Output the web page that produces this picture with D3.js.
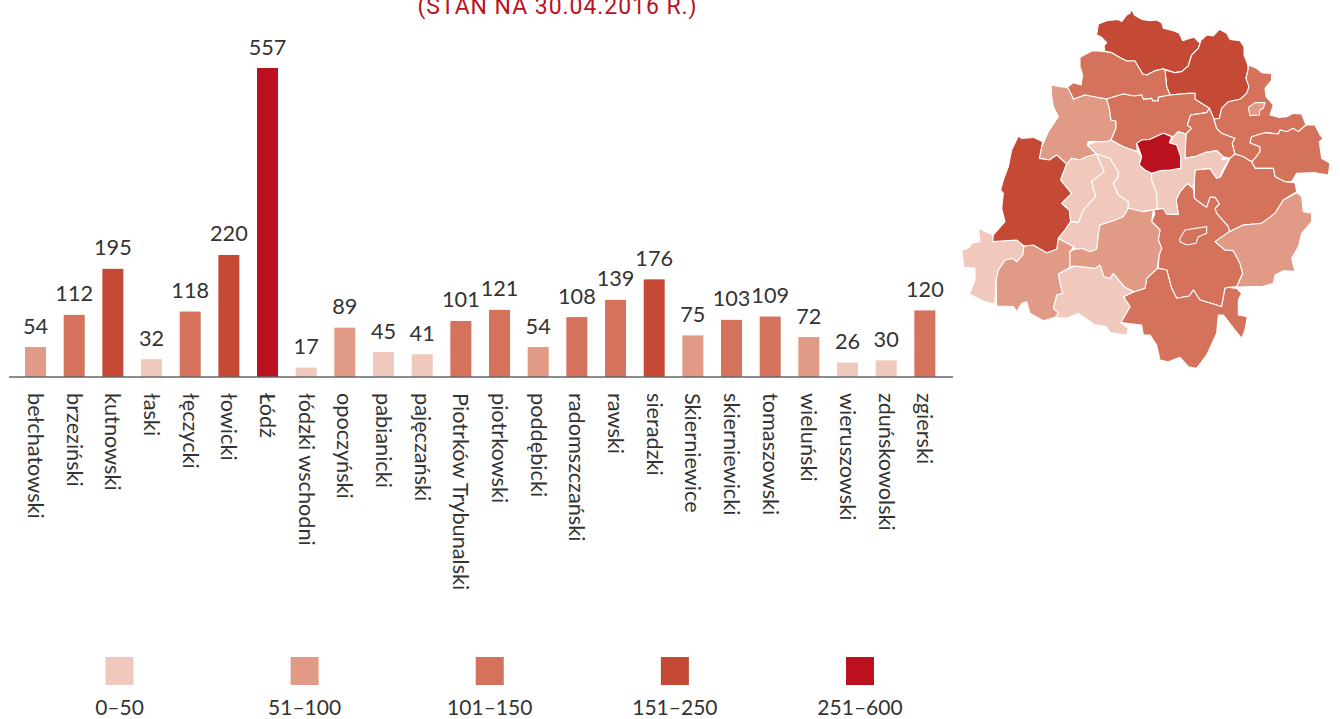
<!DOCTYPE html>
<html lang="pl">
<head>
<meta charset="utf-8">
<title>Powiaty</title>
<script src="https://cdn.jsdelivr.net/npm/d3@7"></script>
<style>
  html, body { margin: 0; padding: 0; background: #fff; overflow: hidden; }
  text { font-family: Lato, sans-serif; fill: #333; }
</style>
</head>
<body>
<div id="chart"></div>
<script>
// Values per county
const categories = ['bełchatowski', 'brzeziński', 'kutnowski', 'łaski', 'łęczycki', 'łowicki', 'Łódź',
    'łódzki wschodni', 'opoczyński', 'pabianicki', 'pajęczański', 'Piotrków Trybunalski', 'piotrkowski',
    'poddębicki', 'radomszczański', 'rawski', 'sieradzki', 'Skierniewice', 'skierniewicki', 'tomaszowski',
    'wieluński', 'wieruszowski', 'zduńskowolski', 'zgierski'];
const values = [54, 112, 195, 32, 118, 220, 557, 17, 89, 45, 41, 101, 121, 54, 108, 139, 176, 75, 103, 109, 72, 26, 30, 120];

const legendLabels = ['0–50', '51–100', '101–150', '151–250', '251–600'];
const legendBreaks = [51, 101, 151, 251];
const legendColors = ['#f1c9bc', '#e19a85', '#d5725b', '#c54a36', '#bb101d'];

// County outlines (map units, see mapX / mapY)
const kutnowskiShape = [[545,27],[553,45],[575,58],[600,62],[620,60],[635,68],[640,85],[670,92],[688,100],[698,122],[720,115],[733,112],[750,130],[745,145],[725,165],[718,185],[715,198],[695,215],[675,218],[640,206],[615,212],[590,225],[578,222],[565,200],[555,183],[530,183],[505,170],[485,158],[465,155],[462,138],[470,128],[455,112],[440,105],[445,72],[470,62],[505,58],[515,65],[530,45],[540,40]];
const lowickiShape = [[750,130],[752,122],[770,105],[790,108],[808,88],[830,100],[840,118],[870,122],[882,140],[882,165],[892,190],[895,205],[888,235],[897,260],[890,280],[870,298],[835,305],[815,325],[808,355],[792,357],[778,325],[735,298],[735,280],[715,280],[660,285],[650,260],[645,210],[675,218],[695,215],[715,198],[725,165],[745,145]];
const leczyckiShape = [[390,172],[425,153],[445,153],[465,155],[485,158],[505,170],[530,183],[555,183],[565,200],[578,222],[590,225],[615,212],[640,206],[645,210],[650,260],[660,285],[625,292],[625,303],[608,303],[605,295],[580,298],[575,285],[550,288],[520,282],[470,297],[440,292],[405,285],[370,298],[362,280],[352,262],[370,248],[393,255],[398,225],[390,200]];
const poddebickiShape = [[303,255],[330,260],[352,262],[362,280],[370,298],[405,285],[440,292],[470,297],[478,325],[483,360],[498,363],[498,385],[483,420],[470,425],[440,425],[415,425],[412,435],[440,462],[410,470],[390,480],[365,475],[350,492],[320,465],[298,480],[268,475],[275,440],[295,395],[325,350],[310,320],[305,290]];
const zgierskiShape = [[470,297],[520,282],[550,288],[575,285],[580,298],[605,295],[608,303],[625,303],[625,292],[660,285],[715,280],[735,280],[735,298],[778,325],[770,338],[722,345],[712,375],[725,385],[708,402],[685,395],[670,410],[640,400],[600,418],[575,420],[560,430],[562,455],[520,440],[483,420],[498,385],[498,363],[483,360],[478,325]];
const brzezinskiShape = [[722,345],[770,338],[778,325],[792,357],[800,385],[815,400],[855,415],[847,430],[855,462],[840,475],[820,470],[800,452],[765,458],[735,470],[705,475],[708,402],[725,385],[712,375]];
const lodzShape = [[560,430],[575,420],[600,418],[640,400],[665,410],[658,428],[680,435],[692,470],[692,505],[660,510],[630,512],[605,520],[585,510],[568,495],[575,470],[568,450]];
const lodzkiWschShape = [[658,428],[670,410],[685,395],[708,402],[705,475],[735,470],[765,458],[800,452],[820,470],[815,480],[840,475],[815,515],[812,530],[800,535],[780,505],[735,510],[733,540],[730,565],[712,550],[690,575],[678,600],[685,643],[650,642],[640,625],[622,625],[620,580],[605,540],[605,520],[630,512],[660,510],[692,505],[692,470],[680,435]];
const skierniewickiShape = [[895,195],[920,205],[935,218],[965,220],[965,240],[945,265],[948,290],[970,315],[960,345],[985,352],[1010,350],[1030,340],[1055,342],[1068,375],[1045,395],[1030,385],[1010,395],[990,390],[985,402],[945,398],[905,410],[900,428],[930,440],[930,455],[915,475],[905,485],[880,470],[855,462],[847,430],[855,415],[815,400],[800,385],[792,357],[808,355],[815,325],[835,305],[870,298],[890,280],[897,260],[888,235],[895,205]];
const skierniewiceShape = [[895,322],[915,308],[945,308],[940,325],[930,330],[928,345],[900,347]];
const rawskiShape = [[1068,375],[1095,375],[1110,405],[1120,415],[1108,425],[1115,475],[1140,490],[1135,525],[1095,518],[1040,520],[1025,545],[1005,545],[975,530],[970,505],[915,505],[905,485],[915,475],[930,455],[930,440],[900,428],[905,410],[945,398],[985,402],[990,390],[1010,395],[1030,385],[1045,395]];
const tomaszowskiShape = [[733,540],[735,510],[780,505],[800,535],[812,530],[840,475],[855,462],[880,470],[905,485],[915,505],[970,505],[975,530],[1005,545],[1035,548],[1040,575],[1000,600],[975,640],[935,670],[880,675],[838,695],[835,680],[800,640],[795,625],[808,612],[795,592],[780,592],[770,622],[755,612],[733,595]];
const piotrkowskiShape = [[610,630],[640,625],[650,642],[685,643],[678,600],[690,575],[712,550],[730,565],[733,595],[755,612],[770,622],[780,592],[795,592],[808,612],[795,625],[800,640],[835,680],[838,695],[795,725],[825,750],[850,752],[870,790],[878,820],[860,860],[838,862],[825,865],[815,920],[790,912],[750,900],[730,870],[718,888],[680,895],[665,865],[650,810],[625,805],[627,765],[635,745],[625,720],[630,690],[605,665],[615,640]];
const piotrkowShape = [[690,715],[705,690],[770,680],[770,700],[745,710],[738,730],[710,735],[690,725]];
const opoczynskiShape = [[838,695],[880,675],[935,670],[975,640],[1000,600],[1040,578],[1055,590],[1060,635],[1085,640],[1085,665],[1055,700],[1045,740],[1025,775],[1035,815],[1000,812],[975,825],[970,850],[935,860],[895,860],[860,862],[878,820],[870,790],[850,752],[825,750],[795,725]];
const radomszczanskiShape = [[622,805],[650,810],[665,865],[680,895],[718,888],[730,870],[750,900],[790,912],[815,920],[825,865],[838,862],[860,865],[875,880],[865,900],[865,945],[892,950],[885,990],[875,1015],[855,990],[820,945],[805,945],[800,1000],[770,1065],[740,1105],[715,1100],[690,1072],[655,1085],[630,1080],[620,1035],[600,1005],[580,1005],[575,975],[512,968],[540,920],[520,890],[552,875],[585,865],[590,835]];
const pajeczanskiShape = [[325,822],[375,798],[435,805],[450,795],[462,830],[480,835],[490,820],[525,862],[552,875],[520,890],[540,920],[512,968],[535,985],[530,1005],[480,998],[470,980],[435,975],[385,940],[350,955],[315,952],[325,940],[310,925],[320,885],[338,880],[330,850]];
const wielunskiShape = [[222,738],[250,735],[290,758],[320,748],[325,715],[372,740],[360,755],[360,802],[325,822],[330,850],[338,880],[320,885],[310,925],[325,940],[315,952],[280,962],[240,940],[230,905],[215,910],[200,935],[190,920],[140,918],[138,840],[145,810],[165,780],[190,775],[200,785],[218,765]];
const wieruszowskiShape = [[85,685],[130,705],[128,725],[200,720],[222,738],[218,765],[200,785],[190,775],[165,780],[145,810],[138,840],[135,912],[105,905],[58,882],[75,840],[75,805],[42,802],[35,750],[55,745],[65,730],[90,725]];
const sieradzkiShape = [[205,408],[215,415],[250,412],[278,425],[268,475],[298,480],[320,465],[350,492],[332,540],[365,580],[335,610],[358,630],[362,665],[345,690],[325,715],[320,748],[290,758],[250,735],[222,738],[200,720],[128,725],[130,705],[165,665],[155,625],[160,580],[152,570],[160,540],[175,500],[185,450]];
const zdunskowolskiShape = [[350,492],[365,475],[390,480],[410,470],[440,462],[463,515],[425,545],[437,590],[400,630],[385,668],[362,665],[358,630],[335,610],[365,580],[332,540]];
const laskiShape = [[440,462],[480,475],[505,515],[505,530],[490,550],[505,585],[535,605],[535,625],[520,650],[490,662],[450,675],[445,705],[440,748],[420,755],[395,745],[375,750],[372,740],[325,715],[345,690],[362,665],[385,668],[400,630],[437,590],[425,545],[463,515]];
const pabianickiShape = [[412,435],[440,425],[470,425],[483,420],[520,440],[562,455],[575,470],[568,495],[585,510],[605,520],[605,540],[620,580],[622,625],[610,630],[580,635],[535,625],[535,605],[505,585],[490,550],[505,530],[505,515],[480,475],[440,462]];
const belchatowskiShape = [[372,748],[395,745],[420,755],[440,748],[445,705],[450,675],[490,662],[520,650],[535,625],[580,635],[610,630],[605,665],[630,690],[625,720],[635,745],[627,765],[622,805],[590,835],[585,865],[552,875],[525,862],[490,820],[480,835],[462,830],[450,795],[435,805],[375,798],[360,800],[360,755]];

const mapCounties = [
    ['kutnowski', kutnowskiShape], ['łowicki', lowickiShape], ['łęczycki', leczyckiShape], ['poddębicki', poddebickiShape],
    ['zgierski', zgierskiShape], ['brzeziński', brzezinskiShape], ['skierniewicki', skierniewickiShape], ['rawski', rawskiShape],
    ['tomaszowski', tomaszowskiShape], ['piotrkowski', piotrkowskiShape], ['opoczyński', opoczynskiShape],
    ['radomszczański', radomszczanskiShape], ['pajęczański', pajeczanskiShape], ['wieluński', wielunskiShape],
    ['wieruszowski', wieruszowskiShape], ['sieradzki', sieradzkiShape], ['zduńskowolski', zdunskowolskiShape],
    ['łaski', laskiShape], ['pabianicki', pabianickiShape], ['bełchatowski', belchatowskiShape],
    ['łódzki wschodni', lodzkiWschShape], ['Łódź', lodzShape], ['Skierniewice', skierniewiceShape],
    ['Piotrków Trybunalski', piotrkowShape]
];

const width = 1340;
const height = 719;
const baseline = 377;

const svg = d3.select('#chart')
    .append('svg')
    .attr('width', width)
    .attr('height', height)
    .style('display', 'block');

const color = d3.scaleThreshold().domain(legendBreaks).range(legendColors);

// Scales
const xScale = d3.scaleBand()
    .domain(categories)
    .range([16.2, 944.2])
    .paddingInner(0.457)
    .paddingOuter(0.2285);

const yScale = d3.scaleLinear()
    .domain([0, 557])
    .range([baseline, 68]);

// Title, cut off by the top edge as in the source
svg.append('text')
    .attr('x', 557.5)
    .attr('y', 14)
    .attr('text-anchor', 'middle')
    .style('font-family', 'Roboto, sans-serif')
    .style('font-size', '23px')
    .style('letter-spacing', '0.95px')
    .style('fill', '#bb101d')
    .text('(STAN NA 30.04.2016 R.)');

// Bars
svg.append('g')
    .selectAll('rect')
    .data(categories)
    .join('rect')
    .attr('x', d => xScale(d))
    .attr('y', (d, i) => yScale(values[i]))
    .attr('width', xScale.bandwidth())
    .attr('height', (d, i) => baseline - yScale(values[i]))
    .style('fill', (d, i) => color(values[i]));

// Value labels
svg.append('g')
    .selectAll('text')
    .data(categories)
    .join('text')
    .attr('x', d => xScale(d) + xScale.bandwidth() / 2)
    .attr('y', (d, i) => yScale(values[i]) - 13.5)
    .attr('text-anchor', 'middle')
    .style('font-size', '21.7px')
    .text((d, i) => values[i]);

// Category axis
const xAxis = svg.append('g')
    .attr('transform', `translate(0,${baseline})`)
    .call(d3.axisBottom(xScale).tickSize(0).tickSizeOuter(0));

xAxis.select('.domain').remove();
xAxis.append('line')
    .attr('x1', 9)
    .attr('x2', 953)
    .style('stroke', '#666')
    .style('stroke-width', 1.5);

xAxis.selectAll('.tick text')
    .attr('transform', 'rotate(90)')
    .attr('x', 16)
    .attr('y', 0)
    .attr('dy', '0.35em')
    .attr('text-anchor', 'start')
    .style('font-family', 'Lato, sans-serif')
    .style('font-size', '21.7px')
    .style('fill', '#333');

// Legend
const legendScale = d3.scalePoint()
    .domain(legendLabels)
    .range([119.5, 860]);

const legend = svg.append('g');

legend.selectAll('rect')
    .data(legendLabels)
    .join('rect')
    .attr('x', d => legendScale(d) - 14)
    .attr('y', 657)
    .attr('width', 28)
    .attr('height', 28)
    .style('fill', (d, i) => legendColors[i]);

legend.selectAll('text')
    .data(legendLabels)
    .join('text')
    .attr('x', d => legendScale(d))
    .attr('y', 715)
    .attr('text-anchor', 'middle')
    .style('font-size', '21px')
    .text(d => d);

// Map
const mapX = d3.scaleLinear().domain([0, 1170]).range([950, 1340]);
const mapY = d3.scaleLinear().domain([0, 1125]).range([0, 375]);

const outline = d3.line()
    .x(d => mapX(d[0]))
    .y(d => mapY(d[1]))
    .curve(d3.curveLinearClosed);

svg.append('g')
    .selectAll('path')
    .data(mapCounties)
    .join('path')
    .attr('d', d => outline(d[1]))
    .style('fill', d => color(values[categories.indexOf(d[0])]))
    .style('stroke', '#fff')
    .style('stroke-width', 1.1)
    .style('stroke-linejoin', 'round');
</script>
</body>
</html>
